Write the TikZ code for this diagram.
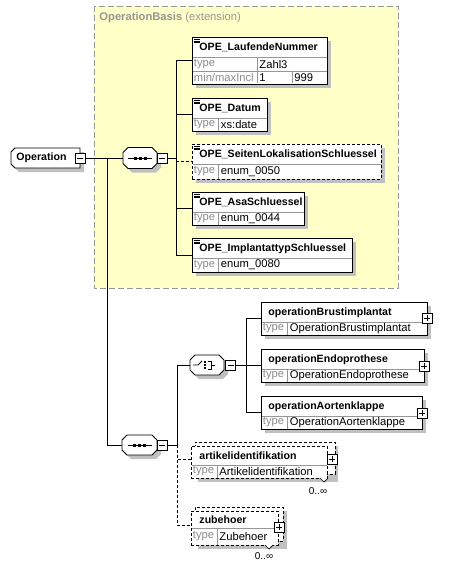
\documentclass[tikz,border=0pt]{standalone}
\usepackage{fontspec}
\setmainfont{Liberation Sans}
\usetikzlibrary{positioning}

\definecolor{extyellow}{RGB}{255,255,200}
\definecolor{extborder}{RGB}{150,150,150}
\definecolor{shadowgray}{RGB}{192,192,192}
\definecolor{typegray}{RGB}{140,140,140}
\definecolor{rulegray}{RGB}{150,150,150}

% octagon outline: x, y, width, height, cut
\newcommand{\octa}[5]{(#1+#5,#2) -- (#1+#3-#5,#2) -- (#1+#3,#2+#5)
  -- (#1+#3,#2+#4-#5) -- (#1+#3-#5,#2+#4) -- (#1+#5,#2+#4)
  -- (#1,#2+#4-#5) -- (#1,#2+#5) -- cycle}

% element box: name, x, y, width, height, border style, title, type
\newcommand{\xsdelem}[8]{%
  \fill[shadowgray] (#2+4,#3+4) rectangle ++(#4,#5);
  \node[elbox,#6,minimum width=#4,minimum height=#5] (#1) at (#2,#3) {};
  \draw[rulegray] (#2+0.5,#3+20) -- ++(#4-1,0);
  \draw[rulegray] (#2+26.5,#3+20) -- (#2+26.5,#3+#5-0.5);
  \node[eltitle] (#1-title) at (#2+7,#3+10.5) {#7};
  \node[typelab] (#1-key) at (#2+1.5,#3+#5/2+10) {type};
  \node[typeval] (#1-type) at (#2+28.5,#3+#5/2+10) {#8};
}

\begin{document}
\begin{tikzpicture}[x=1pt,y=-1pt,line width=0.9pt,
    font=\fontsize{11.2}{13}\selectfont,
    elbox/.style={draw,fill=white,rectangle,anchor=north west,
                  inner sep=0pt,outer sep=0pt},
    slot/.style={rectangle,anchor=north west,inner sep=0pt,outer sep=0pt},
    opt/.style={dash pattern=on 3pt off 2pt},
    eltitle/.style={anchor=west,inner sep=0pt,
                    font=\fontsize{10.6}{13}\selectfont\bfseries},
    typelab/.style={anchor=west,inner sep=0pt,text=typegray},
    typeval/.style={anchor=west,inner sep=0pt},
    mult/.style={inner sep=0pt,font=\fontsize{10}{12}\selectfont},
    pmbox/.style={draw,fill=white,minimum size=10pt,inner sep=0pt,
                  outer sep=0pt,line width=0.7pt},
    minus/.style={pmbox,path picture={
        \draw[line width=0.7pt] ([xshift=2pt]path picture bounding box.west)
          -- ([xshift=-2pt]path picture bounding box.east);}},
    plus/.style={pmbox,path picture={
        \draw[line width=0.7pt] ([xshift=2pt]path picture bounding box.west)
          -- ([xshift=-2pt]path picture bounding box.east);
        \draw[line width=0.7pt] ([yshift=2pt]path picture bounding box.south)
          -- ([yshift=-2pt]path picture bounding box.north);}}]

  \useasboundingbox (0,0) rectangle (456,567);

  % extension of OperationBasis
  \draw[extborder,fill=extyellow,dash pattern=on 6pt off 3pt,line width=0.8pt]
    (94,6) rectangle (398,288);
  \node[anchor=west,inner sep=0pt,text=extborder] (extlabel) at (99,18)
    {\textbf{OperationBasis} (extension)};

  % root element
  \fill[shadowgray] (19,152) -- (84,152) -- (84,172) -- (19,172) -- (15,168)
    -- (15,156) -- cycle;
  \draw[fill=white] (15,148) -- (80,148) -- (80,168) -- (15,168) -- (11,164)
    -- (11,152) -- cycle;
  \node[slot,minimum width=69,minimum height=20] (op) at (11,148) {};
  \node[eltitle] (op-title) at (16,158) {Operation};
  \node[minus] (op-min) at (80,158) {};

  % first sequence
  \fill[shadowgray] \octa{127}{151.5}{34}{21}{5};
  \draw[fill=white] \octa{123}{147.5}{34}{21}{5};
  \node[slot,minimum width=34,minimum height=21] (seqA) at (123,147.5) {};
  \node[minus] (seqA-min) at (162,158) {};
  \draw (seqA.center) ++(-12,0) -- ++(24,0);
  \foreach \d in {-5,0,5}
    \fill ([xshift=\d pt]seqA.center) +(-1.5,-1.5) rectangle +(1.5,1.5);

  % elements of the extension
  \fill[shadowgray] (196,41) rectangle ++(135,47);
  \node[elbox,minimum width=135,minimum height=47] (lfd) at (192,37) {};
  \draw[rulegray] (192.5,57) -- (326.5,57) (192.5,71) -- (326.5,71)
                  (257,57) -- (257,83.5) (292,71) -- (292,83.5);
  \node[eltitle] (lfd-title) at (199,47) {OPE\_LaufendeNummer};
  \node[typelab] (lfd-key) at (193.5,64) {type};
  \node[typeval] (lfd-type) at (259,64) {Zahl3};
  \node[typelab] (lfd-range) at (193.5,77.5) {min/maxIncl};
  \node[typeval] (lfd-min) at (259,77.5) {1};
  \node[typeval] (lfd-max) at (294,77.5) {999};

  \xsdelem{dat}{192}{98}{75}{33}{}{OPE\_Datum}{xs:date}
  \xsdelem{seite}{192}{144}{189}{35}{opt}{OPE\_SeitenLokalisationSchluessel}{enum\_0050}
  \xsdelem{asa}{192}{192}{112}{33}{}{OPE\_AsaSchluessel}{enum\_0044}
  \xsdelem{impl}{192}{238}{160}{34}{}{OPE\_ImplantattypSchluessel}{enum\_0080}

  \foreach \n in {lfd,dat,seite,asa,impl}
    \foreach \k in {2.2,3.9,5.6}
      \draw[line width=0.5pt] ([shift={(1.5pt,-\k pt)}]\n.north west) -- ++(6,0);

  \coordinate (j1) at (176,158);
  \draw (seqA-min.east) -- (j1);
  \draw (j1) |- (lfd.west);
  \draw (j1) |- (dat.west);
  \draw (j1) |- (asa.west);
  \draw (j1) |- (impl.west);
  \draw[opt] (j1 |- seite.west) -- (seite.west);

  % second sequence
  \coordinate (j0) at (107,158);
  \fill[shadowgray] \octa{126}{439}{35}{20}{5};
  \draw[fill=white] \octa{122}{435}{35}{20}{5};
  \node[slot,minimum width=35,minimum height=20] (seqB) at (122,435) {};
  \node[minus] (seqB-min) at (162,445) {};
  \draw (seqB.center) ++(-12,0) -- ++(24,0);
  \foreach \d in {-5,0,5}
    \fill ([xshift=\d pt]seqB.center) +(-1.5,-1.5) rectangle +(1.5,1.5);
  \draw (j0) |- (seqB.west);

  % choice
  \fill[shadowgray] \octa{194}{359}{34}{20}{5};
  \draw[fill=white] \octa{190}{355}{34}{20}{5};
  \node[slot,minimum width=34,minimum height=20] (ch) at (190,355) {};
  \node[minus] (ch-min) at (230.5,365) {};
  \draw (ch.center) ++(-14,0) -- ++(5,0) -- ++(4,-4);
  \foreach \d in {-3.2,0,3.2}
    \fill ([yshift=\d pt]ch.center) +(-3,-1) rectangle +(-1,1);
  \draw (ch.center) ++(1,-4) -- ++(3,0) -- ++(0,8) -- ++(-3,0);
  \draw (ch.center) ++(4,0) -- ++(4,0);

  \xsdelem{brust}{261}{302}{166}{33}{}{operationBrustimplantat}{OperationBrustimplantat}
  \xsdelem{endo}{261}{349}{163}{33}{}{operationEndoprothese}{OperationEndoprothese}
  \xsdelem{aort}{261}{396}{161}{33}{}{operationAortenklappe}{OperationAortenklappe}
  \node[plus] (brust-plus) at (427,318) {};
  \node[plus] (endo-plus) at (424,366) {};
  \node[plus] (aort-plus) at (422,413) {};

  \coordinate (j3) at (246,365);
  \draw (ch-min.east) -- (j3);
  \draw (j3) |- (brust.west);
  \draw (j3) |- (endo.west);
  \draw (j3) |- (aort.west);

  % optional repeated elements
  \fill[shadowgray] (198,446) rectangle (338,482);
  \node[elbox,opt,minimum width=140,minimum height=32] (art-back) at (195,442) {};
  \node[elbox,opt,minimum width=136,minimum height=32] (art) at (191,446) {};
  \draw[rulegray] (191.5,465) -- (326.5,465) (217,465) -- (217,477.5);
  \node[eltitle] (art-title) at (199,455.5) {artikelidentifikation};
  \node[typelab] (art-key) at (192.5,471.5) {type};
  \node[typeval] (art-type) at (219,471.5) {Artikelidentifikation};
  \node[plus] (art-plus) at (332,459) {};
  \draw[fill=white,line width=0.7pt] (320,478) -- (324,482) -- (328,478);
  \node[mult] (art-mult) at (318,491) {0..∞};

  \fill[shadowgray] (198,511) rectangle (287,549);
  \node[elbox,opt,minimum width=88,minimum height=34] (zub-back) at (195,507) {};
  \node[elbox,opt,minimum width=87,minimum height=34] (zub) at (191,511) {};
  \draw[rulegray] (191.5,528) -- (277.5,528) (217,528) -- (217,544.5);
  \node[eltitle] (zub-title) at (199,520) {zubehoer};
  \node[typelab] (zub-key) at (192.5,536.5) {type};
  \node[typeval] (zub-type) at (219,536.5) {Zubehoer};
  \node[plus] (zub-plus) at (279,527) {};
  \draw[fill=white,line width=0.7pt] (265,545) -- (269,549) -- (273,545);
  \node[mult] (zub-mult) at (264,556) {0..∞};

  \coordinate (j2) at (177,445);
  \draw (seqB-min.east) -- (j2);
  \draw (j2) |- (ch.west);
  \draw[opt] (j2) |- ([yshift=3pt]art.west);
  \draw[opt] (j2) |- ([yshift=3pt]zub.west);

  % root to first sequence
  \draw (op-min.east) -- (seqA.west);
\end{tikzpicture}
\end{document}
